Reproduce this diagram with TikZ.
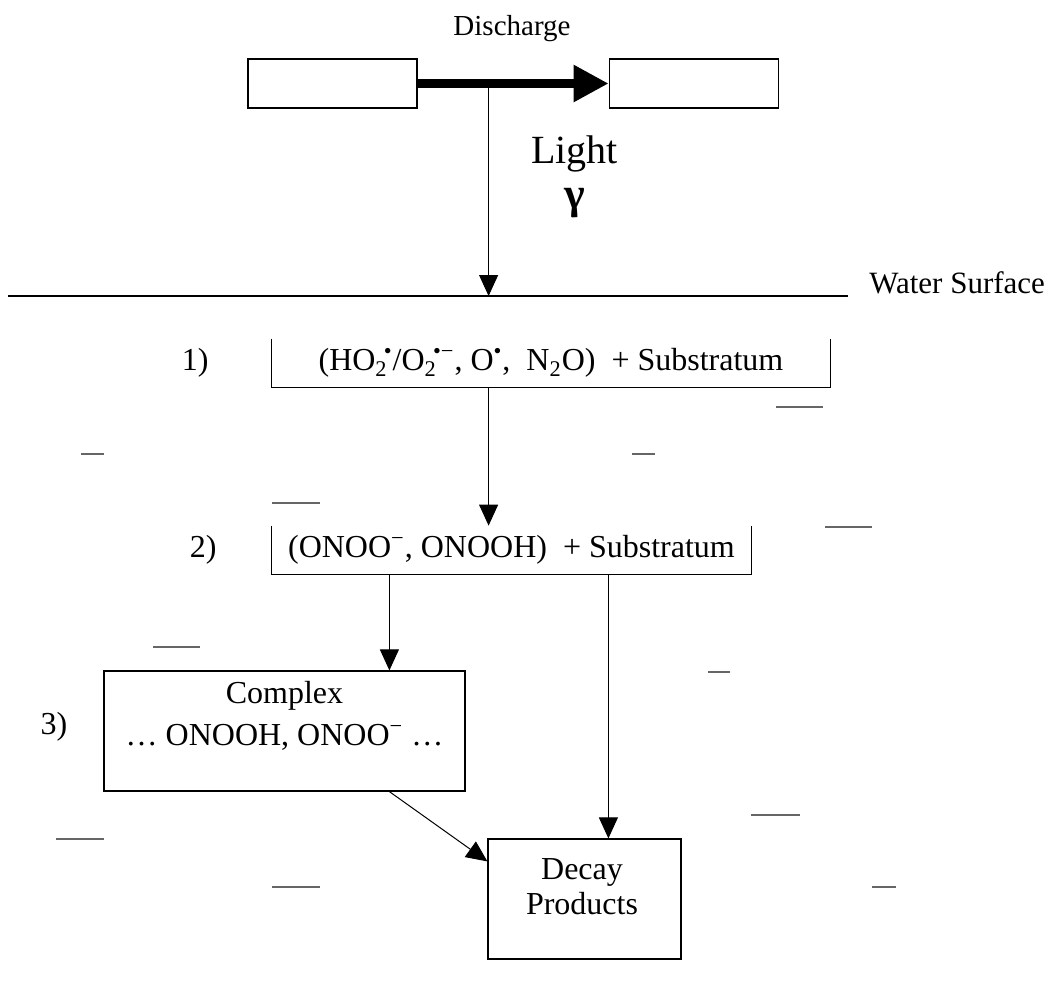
\documentclass[tikz,border=0pt]{standalone}
\usepackage{fontspec}
\setmainfont{Liberation Serif}
\usetikzlibrary{arrows.meta, positioning}

\newcommand{\subsup}[2]{\textsubscript{#1}\kern-0.12em\textsuperscript{#2}}

\begin{document}
\begin{tikzpicture}[
    x=0.5pt, y=-0.5pt,
    electrode/.style={rectangle, draw, line width=0.6pt, minimum width=84.5pt, minimum height=24.5pt, inner sep=0pt},
    stage/.style={rectangle, inner sep=0pt, font=\fontsize{16}{19}\selectfont},
    product/.style={rectangle, draw, line width=0.6pt, inner sep=0pt},
    caption/.style={align=center, inner sep=0pt},
    num/.style={font=\fontsize{16}{19}\selectfont},
    flow/.style={-{Triangle[length=10.5pt, width=9.5pt]}, line width=0.5pt},
    ripple/.style={line width=0.6pt, black!60}
]
\useasboundingbox (0,0) rectangle (1054,1003);

% Discharge between the electrodes
\node[electrode] (ElectrodeL) at (332.5,83.5) {};
\node[electrode, right=95.5pt of ElectrodeL] (ElectrodeR) {};
\node[font=\fontsize{14.5}{17}\selectfont] (Discharge) at (512,29) {Discharge};
\draw[line width=4.3pt, -{Triangle[length=17.5pt, width=17.5pt]}] (ElectrodeL) -- (ElectrodeR);
\coordinate (Spark) at ([xshift=35.5pt]ElectrodeL.east);

% Light down to the water surface
\coordinate (ShoreL) at (8,296);
\coordinate (ShoreR) at (848,296);
\draw[line width=0.6pt] (ShoreL) -- (ShoreR);
\node[anchor=east, font=\fontsize{15.5}{18}\selectfont] (Water) at (1052,283) {Water Surface};
\draw[flow] (Spark) -- (Spark |- ShoreL);
\node[anchor=west, inner sep=0pt, font=\fontsize{20}{24}\selectfont] (Light) at (531,154) {Light};
\node[inner sep=0pt, font=\fontsize{22}{26}\selectfont\bfseries] (Gamma) at (575,203) {γ};

% Stage 1
\node[stage, minimum width=279pt, minimum height=24pt] (Stage1) at (551,363)
    {(HO\subsup{2}{•}/O\subsup{2}{•−}, O\textsuperscript{•},\ \ N\textsubscript{2}O)\ \ + Substratum};
\draw[line width=0.6pt] (Stage1.north west) -- (Stage1.south west) -- (Stage1.south east) -- (Stage1.north east);
\node[num, left=28pt of Stage1] (Num1) {1)};

% Stage 2
\node[stage, minimum width=239.5pt, minimum height=24pt] (Stage2) at (511.5,550)
    {(ONOO\textsuperscript{−}, ONOOH)\ \ + Substratum};
\draw[line width=0.6pt] (Stage2.north west) -- (Stage2.south west) -- (Stage2.south east) -- (Stage2.north east);
\node[num, left=24pt of Stage2] (Num2) {2)};
\draw[flow] (Stage1.south -| Spark) -- (Stage2.north -| Spark);

% Stage 3 and decay
\node[product, minimum width=180.5pt, minimum height=60pt] (Complex) at (284.5,731) {};
\node[caption, font=\fontsize{16}{21}\selectfont] (ComplexTxt) at (284.5,716)
    {Complex\\… ONOOH, ONOO\textsuperscript{−} …};
\node[num] (Num3) at (54,727) {3)};

\node[product, minimum width=96.5pt, minimum height=60pt] (Decay) at (584.5,899) {};
\node[caption, font=\fontsize{16}{17.5}\selectfont] (DecayTxt) at (582,887) {Decay\\Products};

\coordinate (ComplexIn) at ([xshift=143pt]Complex.north west);
\coordinate (DecayIn) at ([xshift=60.5pt]Decay.north west);
\draw[flow] (Stage2.south -| ComplexIn) -- (ComplexIn);
\draw[flow] (Stage2.south -| DecayIn) -- (DecayIn);
\draw[flow] (Complex.south -| ComplexIn) -- ([yshift=-11.5pt]Decay.north west);

% ripples on the water
\foreach \xa/\xb/\yy in {776/823/407, 81/104/454, 632/655/454, 272/320/503, 825/872/527,
    153/200/647, 708/730/672, 751/800/815, 56/104/839, 272/320/887, 872/896/887}
  \draw[ripple] (\xa,\yy) -- (\xb,\yy);

\end{tikzpicture}
\end{document}
